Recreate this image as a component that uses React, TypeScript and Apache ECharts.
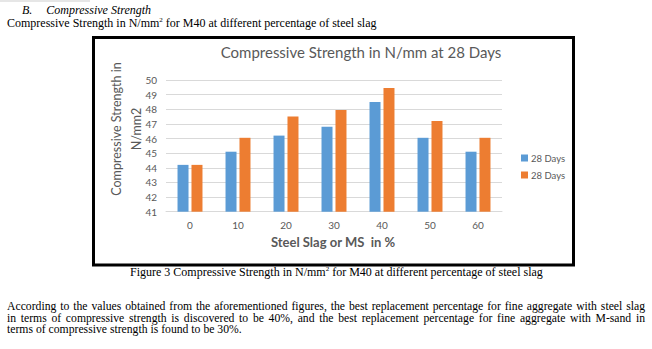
import React, { useEffect, useRef } from "react";
import * as echarts from "echarts";

const categories = ["0", "10", "20", "30", "40", "50", "60"];
const seriesNames = ["28 Days (steel slag)", "28 Days (M-sand)"];
const legendLabels = ["28 Days", "28 Days"];
const seriesA = [44.2, 45.1, 46.2, 46.8, 48.5, 46.05, 45.1];
const seriesB = [44.2, 46.05, 47.5, 47.95, 49.45, 47.2, 46.05];
const yMin = 41;
const yMax = 50;
const colors = ["#5B9BD5", "#ED7D31"];
const chartTitle = "Compressive Strength in N/mm at 28 Days";
const yAxisTitle = "Compressive Strength in\nN/mm2";
const xAxisTitle = "Steel Slag or MS  in %";
const paragraphLines = [
  "According to the values obtained from the aforementioned figures, the best replacement percentage for fine aggregate with steel slag",
  "in terms of compressive strength is discovered to be 40%, and the best replacement percentage for fine aggregate with M-sand in",
  "terms of compressive strength is found to be 30%.",
];

const sans = "Lato, 'Open Sans', sans-serif";
const serif = "'Liberation Serif', 'Times New Roman', serif";
const grey = "#595959";

export default function App() {
  const ref = useRef<HTMLDivElement>(null);

  useEffect(() => {
    if (!ref.current) return;
    const chart = echarts.init(ref.current, undefined, { renderer: "svg" });
    chart.setOption({
      animation: false,
      backgroundColor: "transparent",
      grid: { left: 166, right: 150, top: 80, bottom: 137.3, containLabel: false },
      xAxis: {
        type: "category",
        data: categories,
        axisLine: { show: true, lineStyle: { color: "#D9D9D9", width: 1 } },
        axisTick: { show: false },
        axisLabel: { color: grey, fontSize: 10, fontFamily: sans, margin: 8 },
      },
      yAxis: {
        type: "value",
        min: yMin,
        max: yMax,
        interval: 1,
        axisLine: { show: false },
        axisTick: { show: false },
        splitLine: { lineStyle: { color: "#D9D9D9", width: 1 } },
        axisLabel: { color: grey, fontSize: 10, fontFamily: sans, margin: 9 },
      },
      legend: {
        orient: "vertical",
        left: 516,
        top: 148,
        itemWidth: 7,
        itemHeight: 7,
        itemGap: 7,
        icon: "rect",
        data: seriesNames,
        formatter: (name: string) => legendLabels[seriesNames.indexOf(name)],
        textStyle: { color: grey, fontSize: 9.5, fontFamily: sans, padding: [0, 0, 0, -2] },
      },
      series: [
        {
          name: seriesNames[0],
          type: "bar",
          data: seriesA,
          barWidth: 11,
          barGap: "27%",
          itemStyle: { color: colors[0] },
        },
        {
          name: seriesNames[1],
          type: "bar",
          data: seriesB,
          barWidth: 11,
          barGap: "27%",
          itemStyle: { color: colors[1] },
        },
      ],
      graphic: [
        {
          type: "rect",
          shape: { x: 93.5, y: 37.5, width: 480, height: 227.5 },
          style: { fill: "none", stroke: "#000", lineWidth: 3 },
          silent: true,
        },
        {
          type: "text",
          x: 361,
          y: 52,
          style: {
            text: chartTitle,
            fill: grey,
            font: `15px ${sans}`,
            textAlign: "center",
            textVerticalAlign: "middle",
          },
        },
        {
          type: "text",
          x: 126,
          y: 129,
          rotation: Math.PI / 2,
          style: {
            text: yAxisTitle,
            fill: grey,
            font: `12.5px ${sans}`,
            lineHeight: 20,
            textAlign: "center",
            textVerticalAlign: "middle",
          },
        },
        {
          type: "text",
          x: 333,
          y: 242,
          style: {
            text: xAxisTitle,
            fill: grey,
            font: `bold 13px ${sans}`,
            textAlign: "center",
            textVerticalAlign: "middle",
          },
        },
      ],
    });
    return () => chart.dispose();
  }, []);

  const txt: React.CSSProperties = {
    position: "absolute",
    fontFamily: serif,
    fontSize: 12,
    lineHeight: "13px",
    color: "#000",
    whiteSpace: "nowrap",
  };

  const para: React.CSSProperties = {
    position: "absolute",
    left: 7,
    width: 638,
    fontFamily: serif,
    fontSize: 11.7,
    lineHeight: "12px",
    color: "#000",
    textAlign: "justify",
  };

  return (
    <div style={{ position: "fixed", left: 0, top: 0, width: 652, height: 349, background: "#fff", overflow: "hidden" }}>
      <div style={{ position: "absolute", left: 0, top: 0, width: 90, height: 2, background: "#E6E6E6" }} />
      <div style={{ ...txt, left: 22, top: 4, fontStyle: "italic" }}>
        B.<span style={{ display: "inline-block", width: 14 }} />Compressive Strength
      </div>
      <div style={{ ...txt, left: 7, top: 17 }}>
        Compressive Strength in N/mm<sup style={{ fontSize: 7, lineHeight: 0 }}>2</sup> for M40 at different percentage of steel slag
      </div>
      <div ref={ref} style={{ position: "absolute", left: 0, top: 0, width: 652, height: 349 }} />
      <div style={{ ...txt, left: 130, top: 266 }}>
        Figure 3 Compressive Strength in N/mm<sup style={{ fontSize: 7, lineHeight: 0 }}>2</sup> for M40 at different percentage of steel slag
      </div>
      {paragraphLines.map((line, i) => (
        <div
          key={i}
          style={{
            ...para,
            top: 301 + i * 11.5,
            textAlignLast: i < paragraphLines.length - 1 ? "justify" : "left",
          }}
        >
          {line}
        </div>
      ))}
    </div>
  );
}
